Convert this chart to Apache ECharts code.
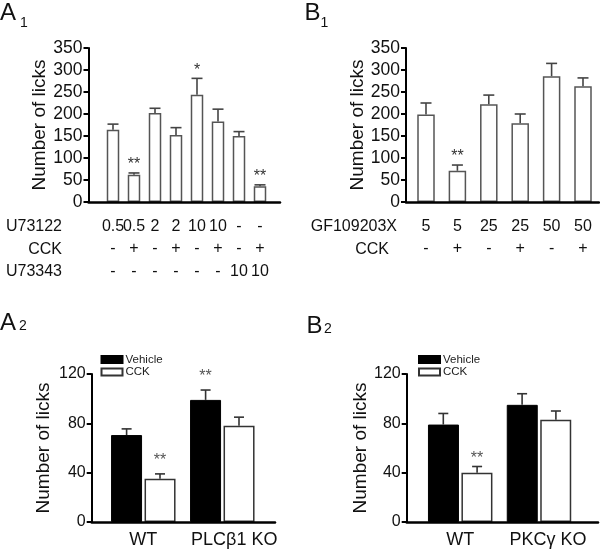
<!DOCTYPE html>
<html><head><meta charset="utf-8">
<script src="https://cdn.jsdelivr.net/npm/echarts@6/dist/echarts.min.js"></script>
<style>html,body{margin:0;padding:0;background:#fff}#c{width:600px;height:553px}</style>
</head><body><div id="c"></div><script>
// ---------- data ----------
const a1U73122 = ['0.5', '0.5', '2', '2', '10', '10', '-', '-'];
const a1CCK    = ['-', '+', '-', '+', '-', '+', '-', '+'];
const a1U73343 = ['-', '-', '-', '-', '-', '-', '10', '10'];
const a1Values = [164, 62, 202, 152, 244, 183, 150, 36];
const a1Errors = [13, 4, 11, 17, 37, 28, 10, 3];
const a1Sig    = ['', '**', '', '', '*', '', '', '**'];

const b1GF     = ['5', '5', '25', '25', '50', '50'];
const b1CCK    = ['-', '+', '-', '+', '-', '+'];
const b1Values = [199, 71, 222, 179, 286, 263];
const b1Errors = [26, 13, 21, 21, 29, 19];
const b1Sig    = ['', '**', '', '', '', ''];

const a2Groups     = ['WT', 'PLC\u03b21 KO'];
const a2Vehicle    = [70.5, 99];
const a2VehicleErr = [5, 8];
const a2VehicleSig = ['', '**'];
const a2CCK        = [35, 78];
const a2CCKErr     = [4, 7];
const a2CCKSig     = ['**', ''];

const b2Groups     = ['WT', 'PKC\u03b3 KO'];
const b2Vehicle    = [79, 95];
const b2VehicleErr = [9, 9];
const b2VehicleSig = ['', ''];
const b2CCK        = [40, 83];
const b2CCKErr     = [5, 7];
const b2CCKSig     = ['**', ''];

const yTop1 = 350, yStep1 = 50;
const yTop2 = 120, yStep2 = 40;

// ---------- helpers ----------
const FONT = "'Liberation Sans', Arial, sans-serif";
const chart = echarts.init(document.getElementById('c'), null, {renderer: 'canvas'});

function frameGrid(left, right, top, bottom) {
  return {left: left, top: top, width: right - left, height: bottom - top};
}
function frameX(gi) {
  return {type: 'value', gridIndex: gi, min: 0, max: 1, z: 6,
    axisLine: {show: true, lineStyle: {color: '#000', width: 2.5}},
    axisTick: {show: false}, axisLabel: {show: false}, splitLine: {show: false}};
}
function frameY(gi, max, step, fs, gap) {
  return {type: 'value', gridIndex: gi, min: 0, max: max, interval: step, z: 6,
    name: 'Number of licks', nameLocation: 'middle', nameGap: gap,
    nameTextStyle: {fontSize: 19, color: '#111', fontFamily: FONT},
    axisLine: {show: true, lineStyle: {color: '#000', width: 2}},
    axisTick: {show: true, length: 5, lineStyle: {color: '#000', width: 2}},
    axisLabel: {show: true, fontSize: fs, color: '#111', margin: 6, fontFamily: FONT},
    splitLine: {show: false}};
}
function hiddenY(gi, max) {
  return {type: 'value', gridIndex: gi, min: 0, max: max, show: false};
}
function errSeries(xi, vals, errs, sigs, offset, capW, color, starGap, starColor) {
  return {
    type: 'custom', name: 'err' + xi + '_' + offset, xAxisIndex: xi, yAxisIndex: xi, z: 4,
    silent: true,
    data: vals.map((v, i) => [i, v, errs[i]]),
    renderItem: function (params, api) {
      const i = api.value(0), v = api.value(1), e = api.value(2);
      const p0 = api.coord([i, v]);
      const p1 = api.coord([i, v + e]);
      const x = p0[0] + offset;
      const st = {stroke: color, lineWidth: 1.6};
      const ch = [
        {type: 'line', shape: {x1: x, y1: p0[1], x2: x, y2: p1[1]}, style: st},
        {type: 'line', shape: {x1: x - capW / 2, y1: p1[1], x2: x + capW / 2, y2: p1[1]}, style: st}
      ];
      const s = sigs[params.dataIndex];
      if (s) {
        ch.push({type: 'text', style: {text: s, x: x, y: p1[1] - starGap, align: 'center',
          verticalAlign: 'bottom', fill: starColor, font: '16px ' + FONT}});
      }
      return {type: 'group', children: ch};
    }
  };
}

const a1Cats = a1U73122.map((v, i) => v + '|' + a1CCK[i] + '|' + a1U73343[i]);
const b1Cats = b1GF.map((v, i) => v + '|' + b1CCK[i]);

const option = {
  animation: false,
  backgroundColor: '#fff',
  textStyle: {fontFamily: FONT},
  grid: [
    frameGrid(88.5, 280, 48, 202),   // 0 A1 frame
    frameGrid(102.5, 270.5, 48, 202),// 1 A1 bars
    frameGrid(406, 599, 48, 202),    // 2 B1 frame
    frameGrid(410.3, 598.7, 48, 202),// 3 B1 bars
    frameGrid(91.7, 275, 374, 522),    // 4 A2 frame
    frameGrid(103.8, 261.8, 374, 522), // 5 A2 bars
    frameGrid(406.7, 598, 374, 522),   // 6 B2 frame
    frameGrid(420.8, 578.4, 374, 522)  // 7 B2 bars
  ],
  xAxis: [
    frameX(0),
    {type: 'category', gridIndex: 1, data: a1Cats, axisLine: {show: false}, axisTick: {show: false},
      axisLabel: {interval: 0, margin: 13, fontSize: 16, lineHeight: 22.5, color: '#111',
        formatter: (v) => v.split('|').join('\n')}},
    frameX(2),
    {type: 'category', gridIndex: 3, data: b1Cats, axisLine: {show: false}, axisTick: {show: false},
      axisLabel: {interval: 0, margin: 13, fontSize: 16, lineHeight: 22.5, color: '#111',
        formatter: (v) => v.split('|').join('\n')}},
    frameX(4),
    {type: 'category', gridIndex: 5, data: a2Groups, axisLine: {show: false}, axisTick: {show: false},
      axisLabel: {interval: 0, margin: 9, fontSize: 18, color: '#111',
        formatter: (v, i) => i === 1 ? '{ko|' + v + '}' : v,
        rich: {ko: {fontSize: 18, color: '#111', padding: [0, 0, 0, 24]}}}},
    frameX(6),
    {type: 'category', gridIndex: 7, data: b2Groups, axisLine: {show: false}, axisTick: {show: false},
      axisLabel: {interval: 0, margin: 9, fontSize: 18, color: '#111',
        formatter: (v, i) => i === 1 ? '{ko|' + v + '}' : v,
        rich: {ko: {fontSize: 18, color: '#111', padding: [0, 0, 0, 18]}}}}
  ],
  yAxis: [
    frameY(0, yTop1, yStep1, 17.5, 36), hiddenY(1, yTop1),
    frameY(2, yTop1, yStep1, 17.5, 37), hiddenY(3, yTop1),
    frameY(4, yTop2, yStep2, 16, 38), hiddenY(5, yTop2),
    frameY(6, yTop2, yStep2, 16, 36), hiddenY(7, yTop2)
  ],
  legend: [
    {data: ['Vehicle', 'CCK'], left: 95.5, top: 348.5, orient: 'vertical', icon: 'rect',
      itemWidth: 21, itemHeight: 7, itemGap: 0.5, selectedMode: false,
      textStyle: {fontSize: 11.5, lineHeight: 10, color: '#222', fontFamily: FONT, padding: [0, 0, 0, -2]}},
    {data: ['Vehicle', 'CCK'], left: 413, top: 348.5, orient: 'vertical', icon: 'rect',
      itemWidth: 21, itemHeight: 7, itemGap: 0.5, selectedMode: false,
      textStyle: {fontSize: 11.5, lineHeight: 10, color: '#222', fontFamily: FONT, padding: [0, 0, 0, -2]}}
  ],
  series: [
    {type: 'bar', name: 'A1', xAxisIndex: 1, yAxisIndex: 1, data: a1Values, barWidth: 12.5,
      itemStyle: {color: '#fff', borderColor: '#555', borderWidth: 1.5}},
    errSeries(1, a1Values, a1Errors, a1Sig, 0, 11, '#444', 0, '#333'),
    {type: 'bar', name: 'B1', xAxisIndex: 3, yAxisIndex: 3, data: b1Values, barWidth: 17.5,
      itemStyle: {color: '#fff', borderColor: '#555', borderWidth: 1.5}},
    errSeries(3, b1Values, b1Errors, b1Sig, 0, 11, '#444', 0, '#333'),
    {type: 'bar', name: 'Vehicle', xAxisIndex: 5, yAxisIndex: 5, data: a2Vehicle, barWidth: 31, barGap: '8%',
      itemStyle: {color: '#000', borderColor: '#000', borderWidth: 1}},
    {type: 'bar', name: 'CCK', xAxisIndex: 5, yAxisIndex: 5, data: a2CCK, barWidth: 31, barGap: '8%',
      itemStyle: {color: '#fff', borderColor: '#333', borderWidth: 1.5}},
    errSeries(5, a2Vehicle, a2VehicleErr, a2VehicleSig, -16.7, 10, '#333', 5.5, '#555'),
    errSeries(5, a2CCK, a2CCKErr, a2CCKSig, 16.7, 10, '#333', 5.5, '#555'),
    {type: 'bar', name: 'Vehicle', xAxisIndex: 7, yAxisIndex: 7, data: b2Vehicle, barWidth: 31, barGap: '8%',
      itemStyle: {color: '#000', borderColor: '#000', borderWidth: 1}},
    {type: 'bar', name: 'CCK', xAxisIndex: 7, yAxisIndex: 7, data: b2CCK, barWidth: 31, barGap: '8%',
      itemStyle: {color: '#fff', borderColor: '#333', borderWidth: 1.5}},
    errSeries(7, b2Vehicle, b2VehicleErr, b2VehicleSig, -16.9, 10, '#333', 0, '#555'),
    errSeries(7, b2CCK, b2CCKErr, b2CCKSig, 16.9, 10, '#333', 0, '#555')
  ],
  graphic: [
    {type: 'text', left: 0, top: 1.5, style: {text: 'A', font: '24px ' + FONT, fill: '#111'}},
    {type: 'text', left: 20, top: 16, style: {text: '1', font: '14px ' + FONT, fill: '#111'}},
    {type: 'text', left: 304.5, top: 1.5, style: {text: 'B', font: '24px ' + FONT, fill: '#111'}},
    {type: 'text', left: 320.5, top: 16, style: {text: '1', font: '14px ' + FONT, fill: '#111'}},
    {type: 'text', left: 0, top: 311.5, style: {text: 'A', font: '24px ' + FONT, fill: '#111'}},
    {type: 'text', left: 19, top: 319, style: {text: '2', font: '14px ' + FONT, fill: '#111'}},
    {type: 'text', left: 306.5, top: 314.5, style: {text: 'B', font: '24px ' + FONT, fill: '#111'}},
    {type: 'text', left: 324, top: 322, style: {text: '2', font: '14px ' + FONT, fill: '#111'}},
    // row titles
    {type: 'text', right: 600 - 62, top: 219, style: {text: 'U73122', font: '16px ' + FONT, fill: '#111'}},
    {type: 'text', right: 600 - 62, top: 242, style: {text: 'CCK', font: '16px ' + FONT, fill: '#111'}},
    {type: 'text', right: 600 - 62, top: 264, style: {text: 'U73343', font: '16px ' + FONT, fill: '#111'}},
    {type: 'text', right: 600 - 397, top: 219, style: {text: 'GF109203X', font: '16px ' + FONT, fill: '#111'}},
    {type: 'text', right: 600 - 389, top: 242, style: {text: 'CCK', font: '16px ' + FONT, fill: '#111'}}
  ]
};
chart.setOption(option);
</script></body></html>
